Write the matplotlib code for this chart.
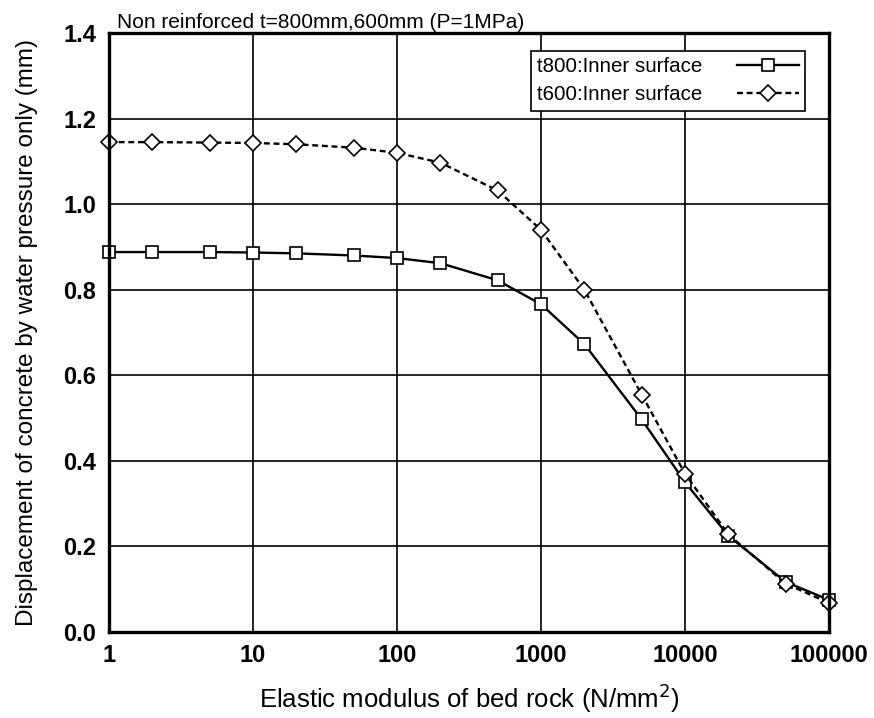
import matplotlib
matplotlib.use("Agg")
import matplotlib.pyplot as plt
from matplotlib.ticker import FixedLocator, FixedFormatter, NullLocator

plt.rcParams['font.family'] = ['Liberation Sans', 'DejaVu Sans']

# elastic modulus of bed rock (N/mm2)
modulus = [1, 2, 5, 10, 20, 50, 100, 200, 500, 1000, 2000, 5000, 10000, 20000, 50000, 100000]
# displacement (mm)
t800 = [0.888, 0.888, 0.888, 0.887, 0.885, 0.880, 0.874, 0.862, 0.822, 0.766,
        0.673, 0.497, 0.350, 0.225, 0.117, 0.075]
t600 = [1.145, 1.145, 1.144, 1.143, 1.140, 1.132, 1.120, 1.097, 1.032, 0.940,
        0.800, 0.555, 0.370, 0.228, 0.113, 0.068]

xticks = [1, 10, 100, 1000, 10000, 100000]
xticklabels = ['1', '10', '100', '1000', '10000', '100000']
yticks = [0.0, 0.2, 0.4, 0.6, 0.8, 1.0, 1.2, 1.4]

fig = plt.figure(figsize=(8.74, 7.18), dpi=100)
ax = fig.add_axes([0.1247, 0.1198, 0.8238, 0.8342])

ax.plot(modulus, t800, color='black', lw=1.7, marker='s', ms=9,
        mfc='white', mec='black', mew=1.2, label='t800:Inner surface',
        zorder=3, clip_on=False)
ax.plot(modulus, t600, color='black', lw=1.7, ls=(0, (2.5, 1.6)), marker='D', ms=8.5,
        mfc='white', mec='black', mew=1.2, label='t600:Inner surface',
        zorder=4, clip_on=False)

ax.set_xscale('log')
ax.set_xlim(1, 100000)
ax.set_ylim(0, 1.4)
ax.xaxis.set_major_locator(FixedLocator(xticks))
ax.xaxis.set_major_formatter(FixedFormatter(xticklabels))
ax.xaxis.set_minor_locator(NullLocator())
ax.set_yticks(yticks)
ax.set_yticklabels(['%.1f' % v for v in yticks])

ax.grid(True, color='black', lw=1.2)
ax.set_axisbelow(True)
ax.tick_params(length=0, pad=9, labelsize=17)
for lab in ax.get_xticklabels() + ax.get_yticklabels():
    lab.set_fontweight('bold')
for s in ax.spines.values():
    s.set_linewidth(2.4)
    s.set_zorder(5)

ax.set_xlabel('Elastic modulus of bed rock (N/mm$^2$)', fontsize=18.5, labelpad=10)
ax.set_ylabel('Displacement of concrete by water pressure only (mm)', fontsize=17.5, labelpad=18)
ax.text(0.011, 1.008, 'Non reinforced t=800mm,600mm (P=1MPa)', transform=ax.transAxes,
        fontsize=15, ha='left', va='baseline')

leg = ax.legend(loc='upper right', bbox_to_anchor=(0.967, 0.970), markerfirst=False,
                numpoints=1, fancybox=False, framealpha=1, edgecolor='black',
                fontsize=14.8, handlelength=3.0, borderaxespad=0, borderpad=0.3,
                labelspacing=0.45, handletextpad=1.7)
leg.get_frame().set_linewidth(1.2)
leg.set_zorder(6)

fig.savefig('out.png', dpi=100)
